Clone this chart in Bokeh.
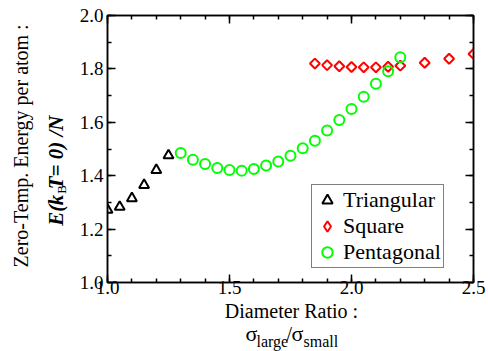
import numpy as np
from bokeh.plotting import figure
from bokeh.layouts import column, row
from bokeh.models import (FixedTicker, LinearAxis, Label, Legend, LegendItem,
                          CustomJSTickFormatter, PrintfTickFormatter, Range1d)
from bokeh.embed import file_html
from bokeh.resources import INLINE

# ---- data ----
tri_x = [1.00, 1.05, 1.10, 1.15, 1.20, 1.25]
tri_y = [1.272, 1.283, 1.315, 1.365, 1.421, 1.476]

sq_x = [1.85, 1.90, 1.95, 2.00, 2.05, 2.10, 2.15, 2.20, 2.30, 2.40, 2.50]
sq_y = [1.820, 1.814, 1.810, 1.807, 1.806, 1.806, 1.808, 1.812, 1.823, 1.838, 1.856]

pent_x = [1.30, 1.35, 1.40, 1.45, 1.50, 1.55, 1.60, 1.65, 1.70, 1.75,
          1.80, 1.85, 1.90, 1.95, 2.00, 2.05, 2.10, 2.15, 2.20]
pent_y = [1.485, 1.460, 1.444, 1.429, 1.421, 1.419, 1.425, 1.438, 1.453, 1.475,
          1.503, 1.531, 1.569, 1.609, 1.650, 1.696, 1.744, 1.791, 1.844]

x_ticks = [1.0, 1.5, 2.0, 2.5]
x_minor = [round(v, 2) for v in np.arange(1.0, 2.501, 0.1)]
y_ticks = [1.0, 1.2, 1.4, 1.6, 1.8, 2.0]
y_minor = [round(v, 2) for v in np.arange(1.0, 2.001, 0.1)]

series_names = ["Triangular", "Square", "Pentagonal"]

FONT = "Liberation Serif"

# layout sizes (whole page 488 x 351)
L_W, TOP_H = 72, 301
M_W = 488 - L_W
B_H = 351 - TOP_H

def blank_fig(w, h):
    f = figure(width=w, height=h, output_backend="svg", toolbar_location=None,
               title=None, x_range=Range1d(0, w), y_range=Range1d(0, h),
               x_axis_type=None, y_axis_type=None,
               min_border=0, min_border_left=0, min_border_right=0,
               min_border_top=0, min_border_bottom=0)
    f.xgrid.visible = False
    f.ygrid.visible = False
    f.outline_line_color = None
    f.background_fill_color = "white"
    f.border_fill_color = "white"
    return f

# ---- main plot ----
p = figure(width=M_W, height=TOP_H, output_backend="svg", toolbar_location=None,
           title=None, x_range=Range1d(1.0, 2.5), y_range=Range1d(1.0, 2.0),
           x_axis_type=None, y_axis_type=None,
           min_border_left=35, min_border_right=15, min_border_top=15, min_border_bottom=19)
p.xgrid.visible = False
p.ygrid.visible = False
p.outline_line_color = "black"
p.outline_line_width = 1.5
p.background_fill_color = "white"
p.border_fill_color = "white"

xt = FixedTicker(ticks=x_ticks, minor_ticks=x_minor)
yt = FixedTicker(ticks=y_ticks, minor_ticks=y_minor)

def style_axis(ax, show_labels):
    ax.major_tick_in = 8
    ax.major_tick_out = 0
    ax.minor_tick_in = 4
    ax.minor_tick_out = 0
    ax.axis_line_width = 1.5
    ax.major_tick_line_width = 1.5
    ax.minor_tick_line_width = 1.5
    ax.axis_line_color = "black"
    ax.major_tick_line_color = "black"
    ax.minor_tick_line_color = "black"
    ax.major_label_text_font = FONT
    ax.major_label_text_font_size = "19px"
    ax.major_label_text_font_style = "normal"
    ax.major_label_text_color = "black"
    if show_labels:
        ax.formatter = PrintfTickFormatter(format="%.1f")
    else:
        ax.formatter = CustomJSTickFormatter(code="return ''")
        ax.major_label_standoff = 0

xb = LinearAxis(ticker=xt)
style_axis(xb, True)
xb.major_label_standoff = -2
p.add_layout(xb, "below")
xa = LinearAxis(ticker=xt)
style_axis(xa, False)
p.add_layout(xa, "above")
yl = LinearAxis(ticker=yt)
style_axis(yl, True)
yl.major_label_standoff = 4
p.add_layout(yl, "left")
yr = LinearAxis(ticker=yt)
style_axis(yr, False)
p.add_layout(yr, "right")

r_tri = p.scatter(tri_x, tri_y, marker="triangle", size=10, line_color="black",
                  line_width=2, fill_color=None)
r_sq = p.scatter(sq_x, sq_y, marker="square", size=7, angle=np.pi / 4, line_color="red",
                 line_width=2, fill_color=None)
# legend stand-in for the rotated squares (legend glyphs are drawn unrotated)
r_sq_leg = p.scatter(sq_x, sq_y, marker="diamond", size=10, line_color="red",
                     line_width=2, fill_color=None, visible=False)
r_pent = p.scatter(pent_x, pent_y, marker="circle", size=10, line_color="#00ff00",
                   line_width=2, fill_color=None)

legend = Legend(items=[LegendItem(label=series_names[0], renderers=[r_tri]),
                       LegendItem(label=series_names[1], renderers=[r_sq_leg]),
                       LegendItem(label=series_names[2], renderers=[r_pent])],
                location=(204, 14))
legend.label_text_font = FONT
legend.label_text_font_size = "22px"
legend.label_text_font_style = "normal"
legend.label_text_color = "black"
legend.label_height = 24
legend.glyph_height = 26
legend.glyph_width = 26
legend.label_standoff = 3
legend.spacing = -2
legend.padding = 2
legend.margin = 0
legend.border_line_color = "black"
legend.border_line_width = 1.5
legend.background_fill_color = "white"
legend.background_fill_alpha = 1.0
legend.click_policy = "none"
p.add_layout(legend, "center")

def lab(f, text, x, y, size, angle=0.0, align="left", style="normal"):
    f.add_layout(Label(x=x, y=y, text=text, angle=angle, text_align=align,
                       text_baseline="middle", text_font=FONT,
                       text_font_size=size, text_font_style=style, text_color="black"))

# ---- y axis title (left strip); data units = pixels, y up from strip bottom ----
fl = blank_fig(L_W, TOP_H)
a = np.pi / 2
lab(fl, "Zero-Temp. Energy per atom :", 20, TOP_H - 147, "20px", angle=a, align="center")
lab(fl, "E(", 55, TOP_H - 237, "21px", angle=a, style="bold italic")
lab(fl, "k", 55, TOP_H - 214, "21px", angle=a, style="bold italic")
lab(fl, "B", 61, TOP_H - 201, "13px", angle=a)
lab(fl, "T= 0) /N", 55, TOP_H - 196, "21px", angle=a, style="bold italic")

# ---- x axis title (bottom strip) ----
fb = blank_fig(488, B_H)
lab(fb, "Diameter Ratio :", 291, 351 - 310, "20px", align="center")
lab(fb, "σ", 245, 351 - 333, "22px")
lab(fb, "large", 256, 351 - 341, "16px")
lab(fb, "/", 286, 351 - 333, "20px")
lab(fb, "σ", 291, 351 - 333, "22px")
lab(fb, "small", 303, 351 - 341, "16px")

layout = column(row(fl, p, spacing=0), fb, spacing=0)

open("out.html", "w").write(file_html(layout, INLINE))
